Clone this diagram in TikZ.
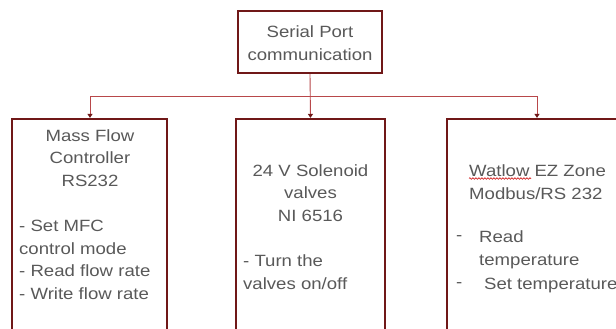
\documentclass[tikz,border=0pt]{standalone}
\usepackage{fontspec}
\setmainfont{Liberation Sans}[FakeStretch=1.14]
\usetikzlibrary{arrows.meta,decorations.pathmorphing}
\definecolor{boxred}{HTML}{701818}
\definecolor{linered}{HTML}{B8474A}
\definecolor{txtgray}{HTML}{595959}
\tikzset{
  box/.style={draw=boxred, line width=2.2pt, fill=white, rectangle, inner sep=0pt},
  conn/.style={draw=linered, line width=0.9pt},
  arr/.style={conn, -{Triangle[width=5pt,length=4pt,color=boxred]}},
  txt/.style={text=txtgray, inner sep=0pt, font=\fontsize{16.3pt}{22.7pt}\selectfont},
}
\begin{document}
\begin{tikzpicture}[x=1pt,y=-1pt]
\useasboundingbox (0,0) rectangle (616,329);
\clip (0,0) rectangle (616,329);
\fill[white] (0,0) rectangle (616,329);
% boxes
\node[box, minimum width=144pt, minimum height=62pt] (top) at (310,42) {};
\node[txt, align=center] (toptxt) at (310,43) {Serial Port\\communication};
\node[box, minimum width=155pt, minimum height=240pt] (lbox) at (89.5,239) {};
\node[box, minimum width=149pt, minimum height=240pt] (mbox) at (310.5,239) {};
\node[box, minimum width=200pt, minimum height=240pt] (rbox) at (547,239) {};
% connectors
\coordinate (busL) at (90,96);
\coordinate (busR) at (537,96);
\draw[conn] (busL) -- (busR);
\draw[arr] (top.south) -- (mbox.north);
\draw[arr] (busL) -- (busL |- lbox.north);
\draw[arr] (busR) -- (busR |- rbox.north);
% left text
\node[txt, align=center] (lhead) at (90,158) {Mass Flow\\Controller\\RS232};
\node[txt, align=left, anchor=west] (llist) at (19,260) {- Set MFC\\control mode\\- Read flow rate\\- Write flow rate};
% middle text
\node[txt, align=center] (mhead) at (310.5,193) {24 V Solenoid\\valves\\NI 6516};
\node[txt, align=left, anchor=west] (mlist) at (243,272) {- Turn the\\valves on/off};
% right text
\node[txt, align=left, anchor=west] (rhead) at (469,182) {Watlow EZ Zone\\Modbus/RS 232};
\node[txt, anchor=west] (rd1) at (456,238) {-};
\node[txt, align=left, anchor=west] (rread) at (479,250) {Read\\temperature};
\node[txt, anchor=west] (rd2) at (456,285) {-};
\node[txt, anchor=west] (rset) at (484,285) {Set temperature};
\draw[red!80!black, line width=0.6pt, decorate, decoration={snake, amplitude=0.8pt, segment length=3pt}] (469,178.5) -- (531,178.5);
\end{tikzpicture}
\end{document}
